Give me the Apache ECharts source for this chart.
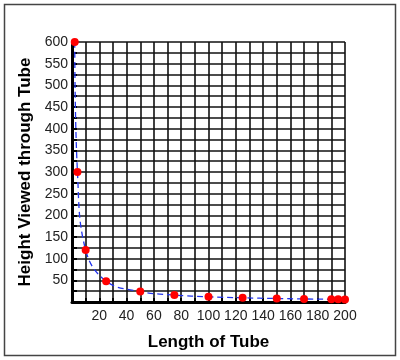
<!DOCTYPE html>
<html>
<head>
<meta charset="utf-8">
<script src="https://cdn.jsdelivr.net/npm/echarts@6/dist/echarts.min.js"></script>
<style>html,body{margin:0;padding:0;background:#fff}#main{width:400px;height:360px}</style>
</head>
<body>
<div id="main"></div>
<script>
// tube length vs height seen through it
const lengths = [2, 4, 10, 25, 50, 75, 100, 125, 150, 170, 190, 195, 200];
const heights = [600, 300, 120, 48, 24, 16, 12, 9.6, 8, 7, 6.3, 6.2, 6];

const chart = echarts.init(document.getElementById('main'), null, {renderer: 'canvas'});
const font = '"Liberation Sans", Arial, sans-serif';
const pts = lengths.map((x, i) => [x, heights[i]]);

chart.setOption({
  animation: false,
  graphic: [{
    type: 'rect',
    shape: {x: 4.5, y: 4.5, width: 391, height: 351},
    style: {fill: 'none', stroke: '#444', lineWidth: 1.5}
  }],
  grid: {left: 72, right: 55, top: 42, bottom: 58},
  xAxis: {
    type: 'value', min: 0, max: 200, interval: 10,
    name: 'Length of Tube', nameLocation: 'middle', nameGap: 32,
    nameTextStyle: {fontFamily: font, fontWeight: 'bold', fontSize: 17, color: '#000'},
    axisLine: {lineStyle: {color: '#000', width: 3}},
    axisTick: {inside: true, length: 4, lineStyle: {color: '#000', width: 2}},
    axisLabel: {
      fontFamily: font, fontSize: 14, color: '#222', margin: 7,
      formatter: v => (v > 0 && v % 20 === 0) ? String(v) : ''
    },
    splitLine: {lineStyle: {color: '#111', width: 1.6}}
  },
  yAxis: {
    type: 'value', min: 0, max: 600, interval: 25,
    name: 'Height Viewed through Tube', nameLocation: 'middle', nameGap: 36,
    nameTextStyle: {fontFamily: font, fontWeight: 'bold', fontSize: 17, color: '#000'},
    axisLine: {show: true, lineStyle: {color: '#000', width: 3}},
    axisTick: {show: true, inside: true, length: 5, lineStyle: {color: '#000', width: 2}},
    axisLabel: {
      fontFamily: font, fontSize: 14, color: '#222', margin: 4,
      formatter: v => (v > 0 && v % 50 === 0) ? String(v) : ''
    },
    splitLine: {lineStyle: {color: '#111', width: 1.6}}
  },
  series: [{
    type: 'line',
    data: pts,
    smooth: 0.4,
    symbol: 'circle',
    symbolSize: 8,
    itemStyle: {color: '#ff0000'},
    lineStyle: {color: '#2233ee', width: 1.3, type: [6, 4]},
    z: 5
  }]
});
</script>
</body>
</html>
